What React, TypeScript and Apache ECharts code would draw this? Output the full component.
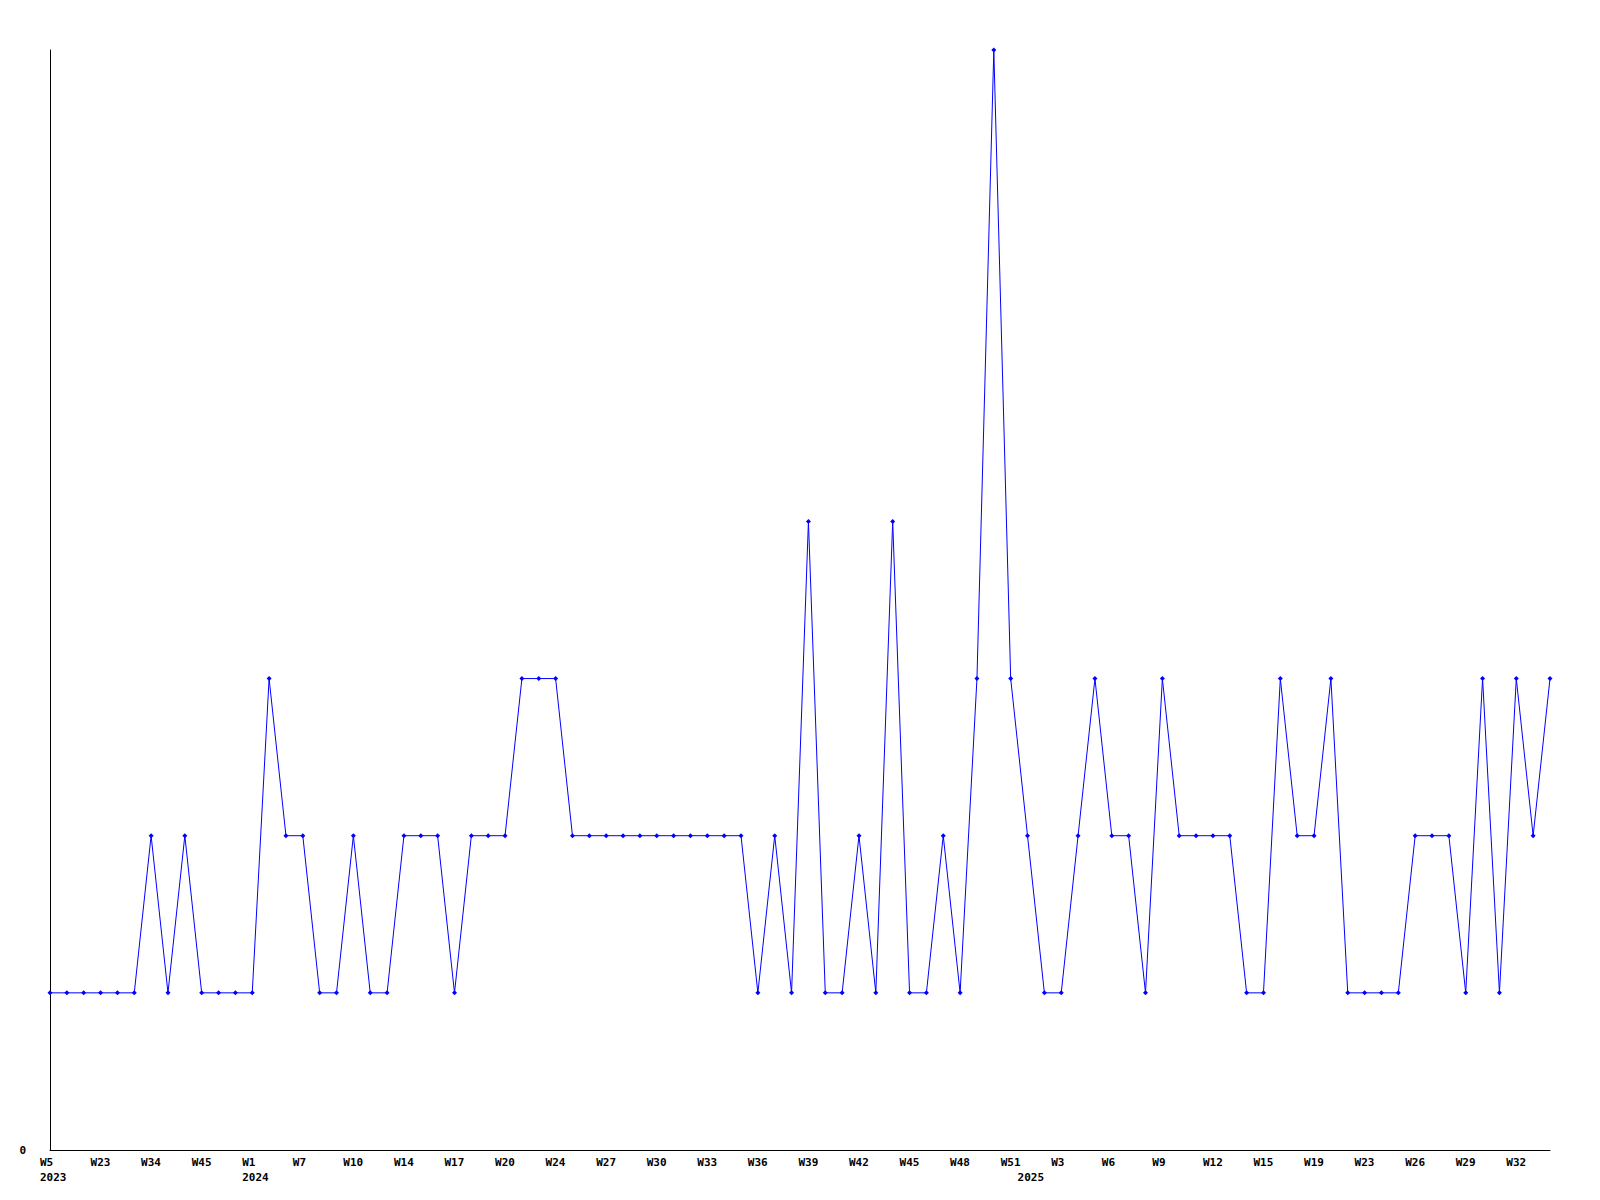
import React, { useEffect, useRef } from "react";
import * as echarts from "echarts";

const weeks: string[] = [
  "W5", "W12", "W18", "W23", "W27", "W31", "W34", "W38", "W41", "W45", "W48", "W51",
  "W1", "W3", "W5", "W7", "W8", "W9", "W10", "W11", "W13", "W14", "W15", "W16", "W17", "W18", "W19", "W20",
  "W21", "W22", "W24", "W25", "W26", "W27", "W28", "W29", "W30", "W31", "W32", "W33", "W34", "W35", "W36",
  "W37", "W38", "W39", "W40", "W41", "W42", "W43", "W44", "W45", "W46", "W47", "W48", "W49", "W50", "W51",
  "W1", "W2", "W3", "W4", "W5", "W6", "W7", "W8", "W9", "W10", "W11", "W12", "W13", "W14", "W15", "W16",
  "W17", "W19", "W20", "W21", "W23", "W24", "W25", "W26", "W27", "W28", "W29", "W30", "W31", "W32", "W33", "W34",
];

const years: string[] = [
  ...Array(12).fill("2023"),
  ...Array(46).fill("2024"),
  ...Array(32).fill("2025"),
];

const values: number[] = [
  1, 1, 1, 1, 1, 1, 2, 1, 2, 1, 1, 1,
  1, 3, 2, 2, 1, 1, 2, 1, 1, 2, 2, 2, 1, 2, 2, 2,
  3, 3, 3, 2, 2, 2, 2, 2, 2, 2, 2, 2, 2, 2, 1,
  2, 1, 4, 1, 1, 2, 1, 4, 1, 1, 2, 1, 3, 7, 3,
  2, 1, 1, 2, 3, 2, 2, 1, 3, 2, 2, 2, 2, 1, 1, 3,
  2, 2, 3, 1, 1, 1, 1, 2, 2, 2, 1, 3, 1, 3, 2, 3,
];

const categories = weeks.map((w, i) => `${i}|${w}|${years[i]}`);

const FONT = "DejaVu Sans Mono";

export default function App() {
  const ref = useRef<HTMLDivElement>(null);
  useEffect(() => {
    const chart = echarts.init(ref.current!, null, { renderer: "svg" });
    const isYearStart = (i: number) => i === 0 || years[i] !== years[i - 1];
    const txt = {
      width: 20,
      align: "left" as const,
      fontFamily: FONT,
      fontWeight: "bold" as const,
      fontSize: 11,
      color: "#000",
      lineHeight: 15,
    };
    chart.setOption({
      animation: false,
      backgroundColor: "#ffffff",
      grid: { left: 50, right: 50, top: 50, bottom: 50, containLabel: false },
      xAxis: {
        type: "category",
        data: categories,
        boundaryGap: false,
        axisLine: { lineStyle: { color: "#000", width: 1 } },
        axisTick: { show: false },
        splitLine: { show: false },
        axisLabel: {
          interval: (idx: number) => idx % 3 === 0 || isYearStart(idx),
          margin: 5,
          align: "center",
          fontFamily: FONT,
          fontWeight: "bold",
          fontSize: 11,
          color: "#000",
          rich: { t: txt },
          formatter: (v: string) => {
            const [si, w, y] = v.split("|");
            const i = Number(si);
            const top = i % 3 === 0 ? w : " ";
            return isYearStart(i) ? `{t|${top}}\n{t|${y}}` : `{t|${top}}`;
          },
        },
      },
      yAxis: {
        type: "value",
        min: 0,
        max: 7,
        interval: 7,
        axisLine: { show: true, lineStyle: { color: "#000", width: 1 } },
        axisTick: { show: false },
        splitLine: { show: false },
        axisLabel: {
          margin: 24,
          fontFamily: FONT,
          fontWeight: "bold",
          fontSize: 11,
          color: "#000",
          formatter: (v: number) => (v === 0 ? "0" : ""),
        },
      },
      series: [
        {
          type: "line",
          data: values,
          symbol: "diamond",
          symbolSize: 5,
          showAllSymbol: true,
          lineStyle: { color: "#0000ff", width: 1 },
          itemStyle: { color: "#0000ff" },
        },
      ],
    });
    return () => chart.dispose();
  }, []);
  return (
    <div
      ref={ref}
      style={{ position: "fixed", left: 0, top: 0, width: 1600, height: 1200 }}
    />
  );
}
